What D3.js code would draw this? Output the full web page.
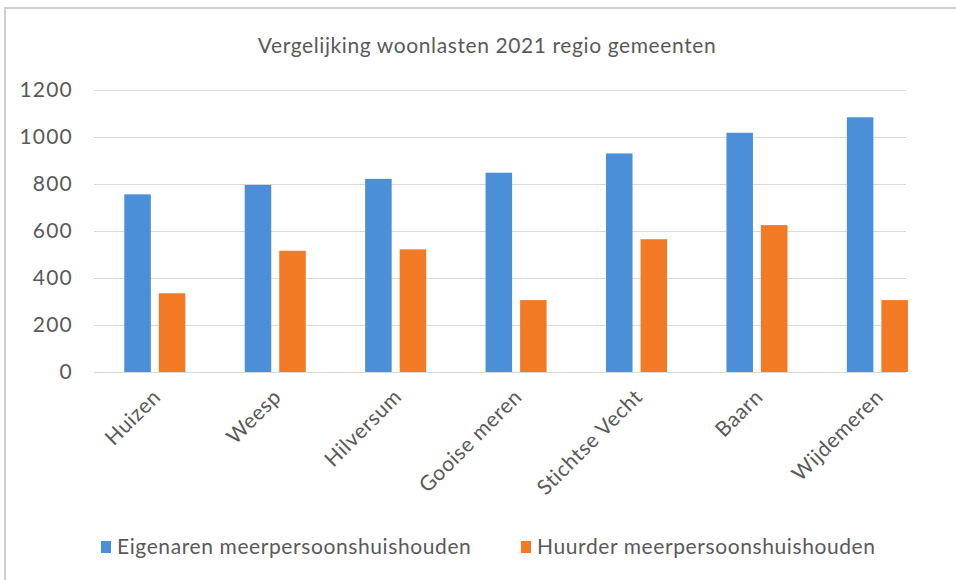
<!DOCTYPE html>
<html>
<head>
<meta charset="utf-8">
<script src="https://cdn.jsdelivr.net/npm/d3@7"></script>
<style>
  body { margin: 0; background: #fff; }
  svg { font-family: Lato, "Open Sans", sans-serif; }
</style>
</head>
<body>
<svg id="chart" width="956" height="580"></svg>
<script>
var gemeenten = ["Huizen", "Weesp", "Hilversum", "Gooise meren", "Stichtse Vecht", "Baarn", "Wijdemeren"];
var eigenaren = [756, 796, 822, 848, 930, 1018, 1084];
var huurders = [335, 516, 522, 306, 565, 625, 306];
var yTicks = [0, 200, 400, 600, 800, 1000, 1200];
var seriesNames = ["Eigenaren meerpersoonshuishouden", "Huurder meerpersoonshuishouden"];
var colors = ["#4a8fd8", "#f27a25"];

var svg = d3.select("#chart");

// frame around the chart
svg.append("path")
  .attr("d", "M5,580V8H956")
  .attr("fill", "none")
  .attr("stroke", "#cfcfcf")
  .attr("stroke-width", 2);

var x0 = d3.scaleBand()
  .domain(gemeenten)
  .range([94.6, 937.6])
  .paddingInner(0.493)
  .paddingOuter(0.2465);

var x1 = d3.scaleBand()
  .domain([0, 1])
  .range([0, x0.bandwidth()])
  .paddingInner(0.232);

var y = d3.scaleLinear()
  .domain([0, 1200])
  .range([372, 90]);

// gridlines
svg.append("g")
  .selectAll("line")
  .data(yTicks)
  .enter()
  .append("line")
  .attr("x1", 94)
  .attr("x2", 906)
  .attr("y1", d => y(d) + 0.5)
  .attr("y2", d => y(d) + 0.5)
  .attr("stroke", "#d9d9d9")
  .attr("stroke-width", 1);

// y labels
svg.append("g")
  .selectAll("text")
  .data(yTicks)
  .enter()
  .append("text")
  .attr("x", 73)
  .attr("y", d => y(d))
  .attr("dy", "0.35em")
  .attr("text-anchor", "end")
  .attr("font-size", 21)
  .attr("letter-spacing", 1.2)
  .attr("fill", "#595959")
  .text(d => d);

// bars
var rows = gemeenten.map((g, i) => ({ name: g, values: [eigenaren[i], huurders[i]] }));
var groups = svg.append("g")
  .selectAll("g")
  .data(rows)
  .enter()
  .append("g")
  .attr("transform", d => "translate(" + x0(d.name) + ",0)");

groups.selectAll("rect")
  .data(d => d.values.map((v, k) => ({ k: k, v: v })))
  .enter()
  .append("rect")
  .attr("x", d => x1(d.k))
  .attr("width", x1.bandwidth())
  .attr("y", d => y(d.v))
  .attr("height", d => y(0) - y(d.v))
  .attr("fill", d => colors[d.k]);

// x labels
svg.append("g")
  .selectAll("text")
  .data(gemeenten)
  .enter()
  .append("text")
  .attr("transform", d => "translate(" + (x0(d) + x0.bandwidth() / 2 + 2) + ",393) rotate(-45)")
  .attr("text-anchor", "end")
  .attr("dy", "0.35em")
  .attr("font-size", 21)
  .attr("letter-spacing", 0.6)
  .attr("fill", "#595959")
  .text(d => d);

// title
svg.append("text")
  .attr("x", 487)
  .attr("y", 46)
  .attr("dy", "0.35em")
  .attr("text-anchor", "middle")
  .attr("font-size", 21)
  .attr("letter-spacing", 0.6)
  .attr("fill", "#595959")
  .text("Vergelijking woonlasten 2021 regio gemeenten");

// legend
var legendX = [101, 521];
var legend = svg.append("g")
  .selectAll("g")
  .data(seriesNames)
  .enter()
  .append("g")
  .attr("transform", (d, i) => "translate(" + legendX[i] + ",547)");

legend.append("rect")
  .attr("x", 0)
  .attr("y", -6)
  .attr("width", 10)
  .attr("height", 12)
  .attr("fill", (d, i) => colors[i]);

legend.append("text")
  .attr("x", 16)
  .attr("dy", "0.35em")
  .attr("font-size", 21)
  .attr("letter-spacing", 0.6)
  .attr("fill", "#595959")
  .text(d => d);
</script>
</body>
</html>
